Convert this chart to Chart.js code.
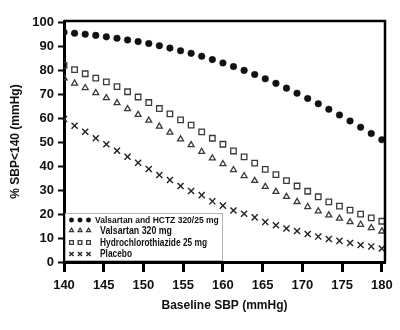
<!DOCTYPE html>
<html lang="en">
<head>
    <meta charset="UTF-8">
    <title>SBP below 140 by baseline SBP</title>
    <script src="https://cdn.jsdelivr.net/npm/chart.js"></script>
    <style>
body {
    margin: 0;
    background: #fff;
}
#sbpChart {
    display: block;
}
    </style>
</head>
<body>
    <canvas id="sbpChart" width="400" height="330"></canvas>
    <script>
// baseline SBP values (mmHg) at which each curve is plotted
const baselineSbp = [140, 141.33, 142.67, 144, 145.33, 146.67, 148, 149.33, 150.67, 152,
    153.33, 154.67, 156, 157.33, 158.67, 160, 161.33, 162.67, 164, 165.33,
    166.67, 168, 169.33, 170.67, 172, 173.33, 174.67, 176, 177.33, 178.67, 180];

const valsartanHctz = [95.8, 95.4, 95.0, 94.5, 93.9, 93.3, 92.6, 91.9, 91.1, 90.2,
    89.2, 88.1, 87.0, 85.8, 84.4, 83.0, 81.5, 79.9, 78.2, 76.4,
    74.5, 72.5, 70.4, 68.2, 66.0, 63.7, 61.3, 58.8, 56.2, 53.6, 51.0];
const valsartan = [76.7, 74.5, 72.6, 70.5, 68.4, 66.3, 63.8, 61.4, 59.0, 56.5,
    54.0, 51.2, 48.8, 46.0, 43.3, 40.9, 38.4, 35.9, 33.9, 31.4,
    29.3, 27.2, 25.1, 23.0, 21.2, 19.5, 18.2, 16.7, 15.6, 14.2, 12.8];
const hctz = [82.0, 80.2, 78.5, 76.7, 75.1, 73.1, 71.0, 68.8, 66.5, 64.0,
    61.8, 59.3, 57.1, 54.3, 51.6, 49.1, 46.3, 43.8, 41.2, 38.6,
    36.4, 33.9, 31.7, 29.5, 27.2, 25.1, 23.3, 21.6, 20.0, 18.4, 17.0];
const placebo = [59.6, 56.8, 54.3, 51.6, 49.1, 46.4, 43.9, 41.4, 38.8, 36.3,
    34.2, 31.7, 29.6, 27.9, 25.3, 23.5, 21.5, 20.1, 18.6, 16.7,
    15.3, 14.0, 12.9, 11.7, 10.6, 9.6, 8.8, 7.9, 7.1, 6.5, 5.6];

const seriesLabels = ['Valsartan and HCTZ 320/25 mg', 'Valsartan 320 mg', 'Hydrochlorothiazide 25 mg', 'Placebo'];
const xTicks = [140, 145, 150, 155, 160, 165, 170, 175, 180];
const yTicks = [0, 10, 20, 30, 40, 50, 60, 70, 80, 90, 100];

const sans = '"Liberation Sans", Arial, sans-serif';

function pts(ys) {
    return ys.map((y, i) => ({ x: baselineSbp[i], y: y }));
}

// dataset look: pointStyle, radius, fill, border
const looks = [
    { pointStyle: 'circle', radius: 3.3, bg: '#111', border: '#111', bw: 0.5 },
    { pointStyle: 'triangle', radius: 3.4, bg: 'rgba(0,0,0,0)', border: '#3a3a3a', bw: 1.3 },
    { pointStyle: 'rect', radius: 3.9, bg: 'rgba(0,0,0,0)', border: '#3a3a3a', bw: 1.3 },
    { pointStyle: 'crossRot', radius: 4.3, bg: '#222', border: '#222', bw: 1.4 }
];
const seriesData = [valsartanHctz, valsartan, hctz, placebo];

const datasets = seriesData.map((ys, i) => ({
    label: seriesLabels[i],
    data: pts(ys),
    showLine: false,
    pointStyle: looks[i].pointStyle,
    pointRadius: looks[i].radius,
    pointBackgroundColor: looks[i].bg,
    pointBorderColor: looks[i].border,
    pointBorderWidth: looks[i].bw
}));

// top and right frame lines
const framePlugin = {
    id: 'frame',
    afterDraw(chart) {
        const { ctx, chartArea: a } = chart;
        ctx.save();
        ctx.strokeStyle = '#000';
        ctx.lineWidth = 2.5;
        ctx.beginPath();
        ctx.moveTo(a.left, a.top);
        ctx.lineTo(a.right, a.top);
        ctx.lineTo(a.right, a.bottom);
        ctx.stroke();
        ctx.restore();
    }
};

// boxed legend in the lower left corner, three symbols per entry
const boxLegend = {
    id: 'boxLegend',
    afterDatasetsDraw(chart) {
        const { ctx, chartArea: a } = chart;
        const left = a.left + 1, top = 213, right = 223, bottom = a.bottom - 1;
        ctx.save();
        ctx.fillStyle = '#fff';
        ctx.fillRect(left, top, right - left, bottom - top);
        ctx.strokeStyle = '#b5b5b5';
        ctx.lineWidth = 1;
        ctx.strokeRect(left + 0.5, top + 0.5, right - left - 1, bottom - top - 1);

        const rowY = [220, 230.5, 242.5, 254];
        const textX = [95, 100, 100, 100];
        const textW = [126, 72, 107, 32];
        const fonts = ['bold 8.5px ' + sans, 'bold 10.5px ' + sans, 'bold 10.5px ' + sans, 'bold 10.5px ' + sans];
        chart.data.datasets.forEach((ds, i) => {
            const lk = looks[i];
            [71.5, 80, 88.5].forEach(px => {
                ctx.fillStyle = lk.bg;
                ctx.strokeStyle = lk.border;
                ctx.lineWidth = lk.bw;
                Chart.helpers.drawPoint(ctx, {
                    pointStyle: lk.pointStyle,
                    radius: lk.radius * 0.68,
                    rotation: 0,
                    borderWidth: lk.bw
                }, px, rowY[i]);
            });
            ctx.fillStyle = '#111';
            ctx.font = fonts[i];
            ctx.textBaseline = 'middle';
            ctx.textAlign = 'left';
            ctx.fillText(ds.label, textX[i], rowY[i] + 0.5, textW[i]);
        });
        ctx.restore();
    }
};

new Chart(document.getElementById('sbpChart'), {
    type: 'scatter',
    data: { datasets: datasets },
    plugins: [framePlugin, boxLegend],
    options: {
        responsive: false,
        animation: false,
        devicePixelRatio: 1,
        layout: { padding: { left: 0, right: 15, top: 21, bottom: 0 } },
        plugins: {
            legend: { display: false },
            tooltip: { enabled: false }
        },
        scales: {
            x: {
                type: 'linear',
                min: 140,
                max: 180.4,
                afterBuildTicks: s => { s.ticks = xTicks.map(v => ({ value: v })); },
                afterFit: s => { s.height = 68; },
                grid: { drawOnChartArea: false, tickLength: 10, tickWidth: 3, tickColor: '#000' },
                border: { display: true, width: 3, color: '#000' },
                ticks: {
                    color: '#111',
                    padding: 6,
                    maxRotation: 0,
                    font: { family: sans, size: 13, weight: 'bold' }
                },
                title: {
                    display: true,
                    text: 'Baseline SBP (mmHg)',
                    color: '#111',
                    padding: { top: 0, bottom: 17 },
                    font: { family: sans, size: 12, weight: 'bold' }
                }
            },
            y: {
                min: 0,
                max: 100.5,
                afterBuildTicks: s => { s.ticks = yTicks.map(v => ({ value: v })); },
                afterFit: s => { s.width = 64; },
                grid: { drawOnChartArea: false, tickLength: 6, tickWidth: 2, tickColor: '#000' },
                border: { display: true, width: 3, color: '#000' },
                ticks: {
                    color: '#111',
                    padding: 4,
                    font: { family: sans, size: 13, weight: 'bold' }
                },
                title: {
                    display: true,
                    text: '% SBP<140 (mmHg)',
                    color: '#111',
                    padding: { top: 8, bottom: 0 },
                    font: { family: sans, size: 12, weight: 'bold' }
                }
            }
        }
    }
});
    </script>
</body>
</html>
